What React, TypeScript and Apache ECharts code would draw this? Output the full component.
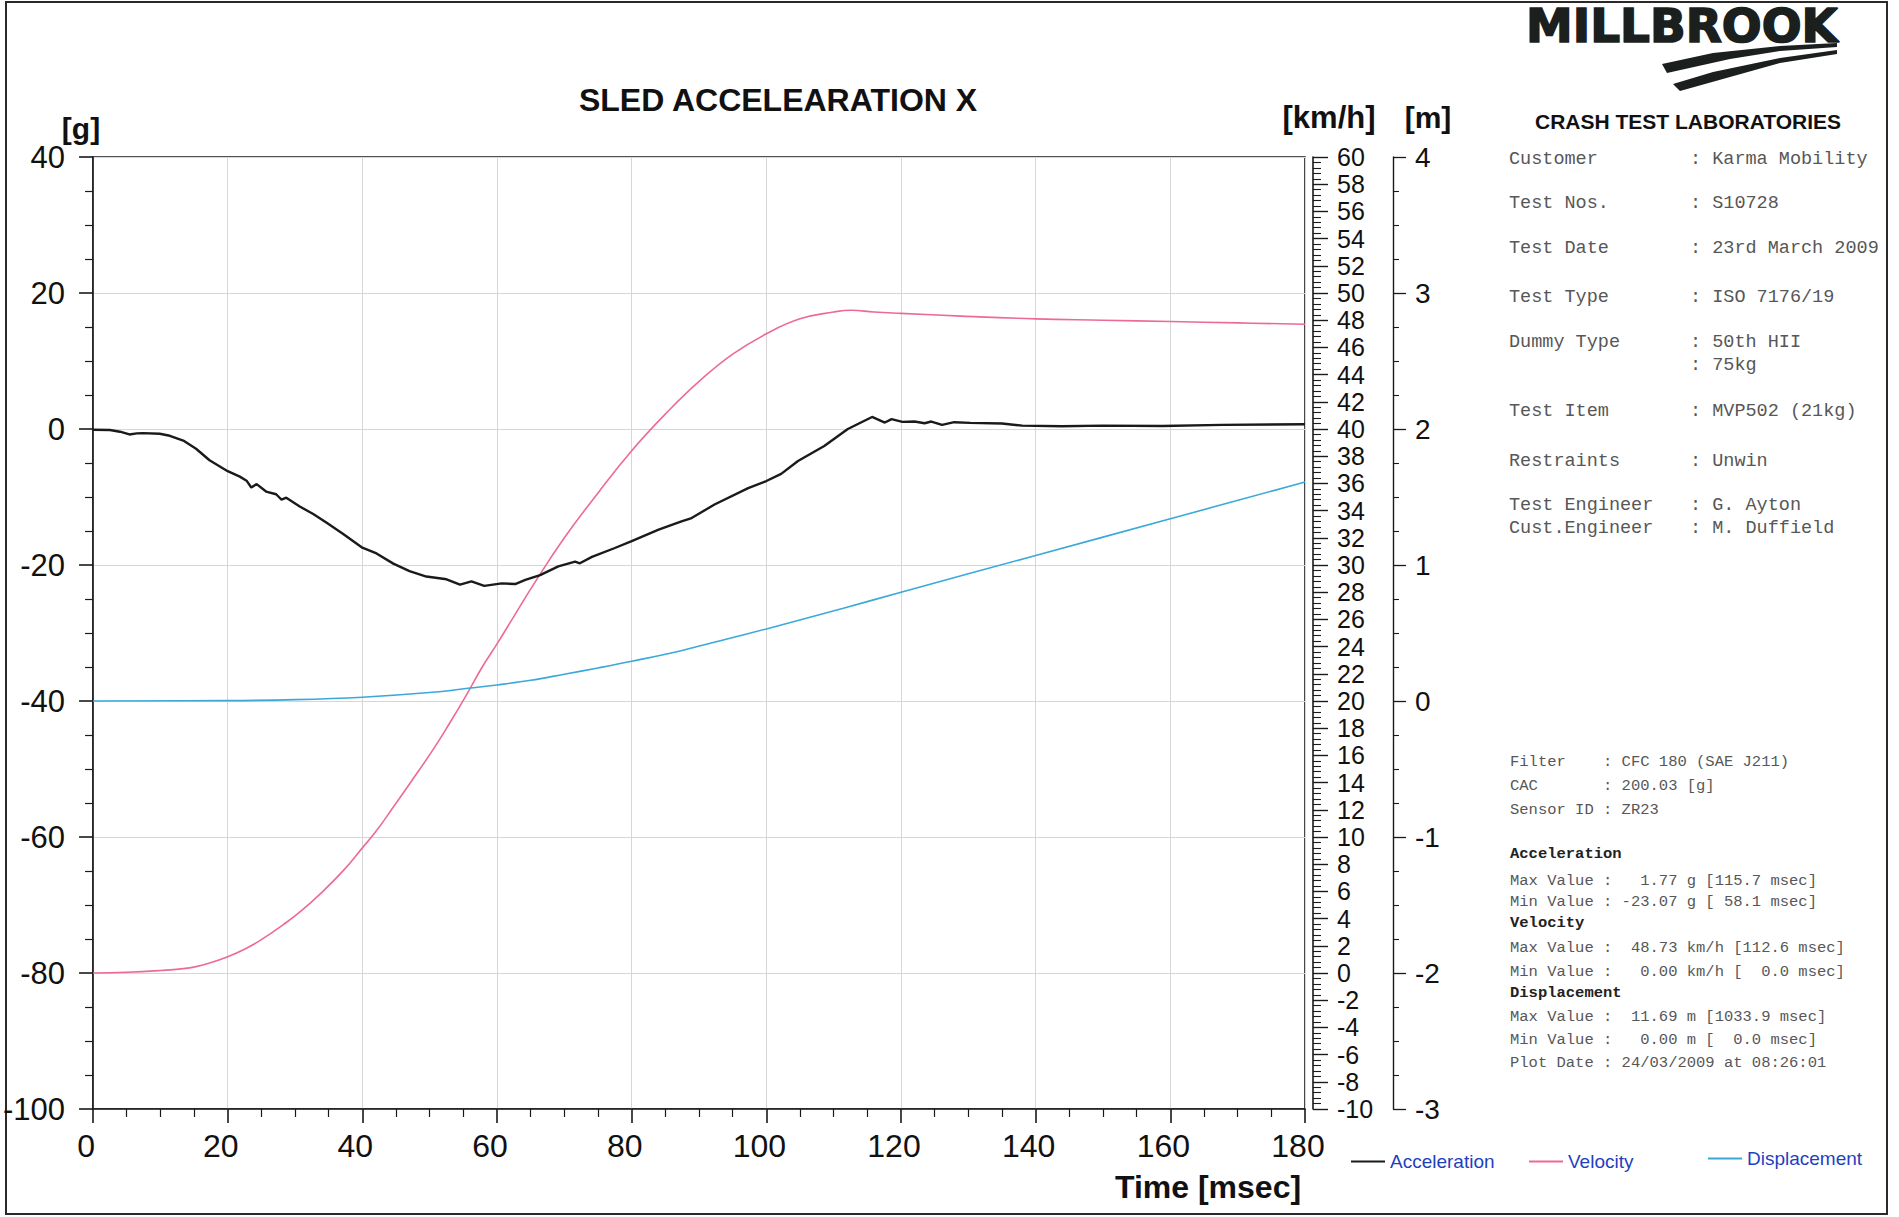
import React, { useEffect, useRef } from "react";
import * as echarts from "echarts";

// ---------- data ----------
const timeTicks = [0, 20, 40, 60, 80, 100, 120, 140, 160, 180];

const accTime = [0, 2.5, 4, 5.4, 6.5, 7.4, 9.9, 11.4, 13.4, 15.3, 17.3, 20, 21.8, 22.8, 23.5, 24.3, 25.7, 27.2, 28, 28.7, 30.7, 32.7, 34.7, 37.1, 39.9, 42.1, 44.6, 47, 49.5, 52.5, 54.5, 56.2, 58.1, 60.7, 62.7, 64.2, 66.4, 69.1, 71.6, 72.3, 74.1, 77.5, 80, 84, 87.4, 88.9, 92.3, 97.3, 100, 102.2, 104.7, 108.6, 112.1, 115.7, 117.6, 118.6, 120.2, 122, 123.5, 124.5, 126.1, 127.9, 130.3, 135, 138, 143.9, 149.9, 158.8, 167.7, 180];
const accValues = [-0.1, -0.15, -0.4, -0.8, -0.65, -0.6, -0.7, -1.0, -1.7, -2.9, -4.6, -6.2, -7.0, -7.6, -8.6, -8.1, -9.2, -9.6, -10.4, -10.1, -11.4, -12.5, -13.8, -15.4, -17.4, -18.3, -19.8, -20.9, -21.7, -22.1, -22.9, -22.4, -23.07, -22.7, -22.8, -22.2, -21.5, -20.2, -19.5, -19.75, -18.8, -17.5, -16.5, -14.8, -13.6, -13.1, -11.1, -8.7, -7.65, -6.6, -4.7, -2.5, 0, 1.77, 0.95, 1.45, 1.05, 1.1, 0.85, 1.1, 0.6, 1.0, 0.9, 0.8, 0.5, 0.4, 0.5, 0.45, 0.6, 0.7];

const velTime = [0, 5, 10, 13.4, 15.3, 17.3, 20, 22.5, 25, 28.8, 31, 33.7, 37.3, 40, 42, 44.6, 47, 50.6, 53, 55.4, 57.8, 60, 62.6, 65.6, 70, 75, 80, 85, 90, 95, 100, 105, 110, 112.6, 116, 120, 129, 140, 150, 160, 170, 180];
const velValues = [0, 0.05, 0.18, 0.32, 0.47, 0.73, 1.2, 1.75, 2.45, 3.75, 4.6, 5.8, 7.6, 9.2, 10.4, 12.2, 13.9, 16.5, 18.4, 20.4, 22.5, 24.2, 26.3, 28.7, 32.0, 35.3, 38.4, 41.1, 43.5, 45.5, 47.0, 48.1, 48.6, 48.73, 48.6, 48.5, 48.3, 48.1, 48.0, 47.9, 47.8, 47.7];

const dispTime = [0, 20, 30, 40, 50, 56, 60, 65, 70, 75, 80, 87.5, 93.3, 100, 111.3, 120, 140, 160, 180];
const dispValues = [0, 0.003, 0.01, 0.028, 0.062, 0.095, 0.118, 0.152, 0.197, 0.243, 0.292, 0.372, 0.445, 0.53, 0.68, 0.80, 1.07, 1.34, 1.61];

const infoLabels = ["Customer", "Test Nos.", "Test Date", "Test Type", "Dummy Type", "", "Test Item", "Restraints", "Test Engineer", "Cust.Engineer"];
const infoValues = ["Karma Mobility", "S10728", "23rd March 2009", "ISO 7176/19", "50th HII", "75kg", "MVP502 (21kg)", "Unwin", "G. Ayton", "M. Duffield"];

const statLines = [
  "Filter    : CFC 180 (SAE J211)",
  "CAC       : 200.03 [g]",
  "Sensor ID : ZR23",
  "Acceleration",
  "Max Value :   1.77 g [115.7 msec]",
  "Min Value : -23.07 g [ 58.1 msec]",
  "Velocity",
  "Max Value :  48.73 km/h [112.6 msec]",
  "Min Value :   0.00 km/h [  0.0 msec]",
  "Displacement",
  "Max Value :  11.69 m [1033.9 msec]",
  "Min Value :   0.00 m [  0.0 msec]",
  "Plot Date : 24/03/2009 at 08:26:01",
];
const statBold = [false, false, false, true, false, false, true, false, false, true, false, false, false];

// ---------- layout ----------
const INFO_Y = [159, 203, 248, 297, 342, 365, 411, 461, 505, 528];
const STAT_Y = [762, 786, 810, 854, 881, 902, 923, 948, 972, 993, 1017, 1040, 1063];

const SANS = "'Liberation Sans', Arial, Helvetica, sans-serif";
const MONO = "'Liberation Mono', 'DejaVu Sans Mono', 'Courier New', monospace";
const nb = (s: string) => s.replace(/ /g, "\u00A0");

export default function App() {
  const ref = useRef<HTMLDivElement>(null);

  useEffect(() => {
    if (!ref.current) return;
    const chart = echarts.init(ref.current, undefined, { renderer: "svg" });

    const axisDark = { color: "#1a1a1a", width: 1.6 };
    const gridLine = { show: true, lineStyle: { color: "#d6d6d6", width: 1 } };
    const panelGrey = "#575757";

    const graphic: any[] = [
      // page frame
      { type: "rect", shape: { x: 6, y: 2, width: 1881, height: 1212 }, style: { fill: "none", stroke: "#2a2a2a", lineWidth: 2 }, silent: true },
      // titles
      { type: "text", x: 778, y: 100, style: { text: "SLED ACCELEARATION X", font: `bold 32px ${SANS}`, fill: "#111", textAlign: "center", textVerticalAlign: "middle" } },
      { type: "text", x: 81, y: 128, style: { text: "[g]", font: `bold 30px ${SANS}`, fill: "#111", textAlign: "center", textVerticalAlign: "middle" } },
      { type: "text", x: 1329, y: 117, style: { text: "[km/h]", font: `bold 31px ${SANS}`, fill: "#111", textAlign: "center", textVerticalAlign: "middle" } },
      { type: "text", x: 1428, y: 117, style: { text: "[m]", font: `bold 30px ${SANS}`, fill: "#111", textAlign: "center", textVerticalAlign: "middle" } },
      { type: "text", x: 1208, y: 1187, style: { text: "Time [msec]", font: `bold 32px ${SANS}`, fill: "#111", textAlign: "center", textVerticalAlign: "middle" } },
      // logo
      { type: "text", x: 1526, y: 26, scaleX: 1.02, style: { text: "MILLBROOK", font: `900 46px 'DejaVu Sans', ${SANS}`, lineHeight: 38, fill: "#1b1f1d", stroke: "#1b1f1d", lineWidth: 1.6, textAlign: "left", textVerticalAlign: "middle" } },
      { type: "polygon", shape: { points: [[1662, 64], [1713, 53], [1780, 46], [1837, 43], [1837, 47], [1780, 51], [1730, 59], [1667, 73]] }, style: { fill: "#1b1f1d" } },
      { type: "polygon", shape: { points: [[1673, 84], [1713, 72], [1780, 58], [1837, 50], [1837, 54], [1780, 63], [1730, 77], [1680, 91]] }, style: { fill: "#1b1f1d" } },
      { type: "text", x: 1688, y: 121, style: { text: "CRASH TEST LABORATORIES", font: `bold 21px ${SANS}`, fill: "#111", textAlign: "center", textVerticalAlign: "middle" } },
    ];

    infoLabels.forEach((lab, i) => {
      if (lab) {
        graphic.push({ type: "text", x: 1509, y: INFO_Y[i], style: { text: nb(lab), font: `18.5px ${MONO}`, fill: panelGrey, textAlign: "left", textVerticalAlign: "middle" } });
      }
      graphic.push({ type: "text", x: 1690, y: INFO_Y[i], style: { text: nb(": " + infoValues[i]), font: `18.5px ${MONO}`, fill: panelGrey, textAlign: "left", textVerticalAlign: "middle" } });
    });

    statLines.forEach((line, i) => {
      graphic.push({
        type: "text", x: 1510, y: STAT_Y[i],
        style: { text: nb(line), font: `${statBold[i] ? "bold " : ""}15.5px ${MONO}`, fill: statBold[i] ? "#222" : panelGrey, textAlign: "left", textVerticalAlign: "middle" },
      });
    });

    const legendBase = {
      icon: "rect", itemWidth: 34, itemHeight: 2, padding: 0, orient: "horizontal",
      textStyle: { color: "#1f3fbf", fontSize: 19, fontFamily: SANS },
    };

    const option: any = {
      animation: false,
      backgroundColor: "#ffffff",
      textStyle: { fontFamily: SANS },
      grid: { left: 90, top: 157, width: 1215, height: 952, show: true, borderColor: "#1a1a1a", borderWidth: 1.6, backgroundColor: "transparent" },
      legend: [
        { ...legendBase, data: ["Acceleration"], left: 1351, top: 1152 },
        { ...legendBase, data: ["Velocity"], left: 1529, top: 1152 },
        { ...legendBase, data: ["Displacement"], left: 1708, top: 1149 },
      ],
      xAxis: {
        type: "value", min: timeTicks[0], max: timeTicks[timeTicks.length - 1], interval: timeTicks[1] - timeTicks[0],
        axisLine: { show: true, onZero: false, lineStyle: axisDark },
        axisTick: { show: true, inside: false, length: 14, lineStyle: axisDark },
        minorTick: { show: true, splitNumber: 4, length: 8, lineStyle: { color: "#1a1a1a", width: 1.2 } },
        splitLine: gridLine,
        axisLabel: { fontSize: 32, color: "#111", margin: 21, fontFamily: SANS, padding: [0, 14, 0, 0], showMinLabel: true, showMaxLabel: true },
      },
      yAxis: [
        {
          type: "value", position: "left", min: -100, max: 40, interval: 20,
          axisLine: { show: true, onZero: false, lineStyle: axisDark },
          axisTick: { show: true, inside: false, length: 14, lineStyle: axisDark },
          minorTick: { show: true, splitNumber: 4, length: 8, lineStyle: { color: "#1a1a1a", width: 1.2 } },
          splitLine: gridLine,
          axisLabel: { fontSize: 31, color: "#111", margin: 28, fontFamily: SANS, showMinLabel: true, showMaxLabel: true },
        },
        {
          type: "value", position: "right", offset: 8, min: -10, max: 60, interval: 2,
          axisLine: { show: true, onZero: false, lineStyle: axisDark },
          axisTick: { show: true, inside: false, length: 15, lineStyle: { color: "#1a1a1a", width: 1.4 } },
          minorTick: { show: true, splitNumber: 5, length: 8, lineStyle: { color: "#1a1a1a", width: 1.1 } },
          splitLine: { show: false },
          axisLabel: { fontSize: 25, lineHeight: 25, color: "#111", margin: 24, fontFamily: SANS, showMinLabel: true, showMaxLabel: true, hideOverlap: false },
        },
        {
          type: "value", position: "right", offset: 88, min: -3, max: 4, interval: 1,
          axisLine: { show: true, onZero: false, lineStyle: { color: "#1a1a1a", width: 1.4 } },
          axisTick: { show: true, inside: false, length: 13, lineStyle: { color: "#1a1a1a", width: 1.3 } },
          minorTick: { show: true, splitNumber: 4, length: 6, lineStyle: { color: "#1a1a1a", width: 1.1 } },
          splitLine: { show: false },
          axisLabel: { fontSize: 28, color: "#111", margin: 22, fontFamily: SANS, showMinLabel: true, showMaxLabel: true },
        },
      ],
      series: [
        {
          name: "Acceleration", type: "line", yAxisIndex: 0, symbol: "none", showSymbol: false,
          data: accTime.map((t, i) => [t, accValues[i]]),
          lineStyle: { color: "#1a1a1a", width: 2.4 }, itemStyle: { color: "#1a1a1a" }, z: 4,
        },
        {
          name: "Velocity", type: "line", yAxisIndex: 1, symbol: "none", showSymbol: false, smooth: 0.45,
          data: velTime.map((t, i) => [t, velValues[i]]),
          lineStyle: { color: "#ec6a9a", width: 1.6 }, itemStyle: { color: "#ec6a9a" }, z: 3,
        },
        {
          name: "Displacement", type: "line", yAxisIndex: 2, symbol: "none", showSymbol: false, smooth: 0.4,
          data: dispTime.map((t, i) => [t, dispValues[i]]),
          lineStyle: { color: "#3aa9d9", width: 1.6 }, itemStyle: { color: "#3aa9d9" }, z: 3,
        },
      ],
      graphic,
    };

    chart.setOption(option);
    return () => chart.dispose();
  }, []);

  return <div ref={ref} style={{ position: "fixed", left: 0, top: 0, width: 1899, height: 1217, background: "#fff" }} />;
}
